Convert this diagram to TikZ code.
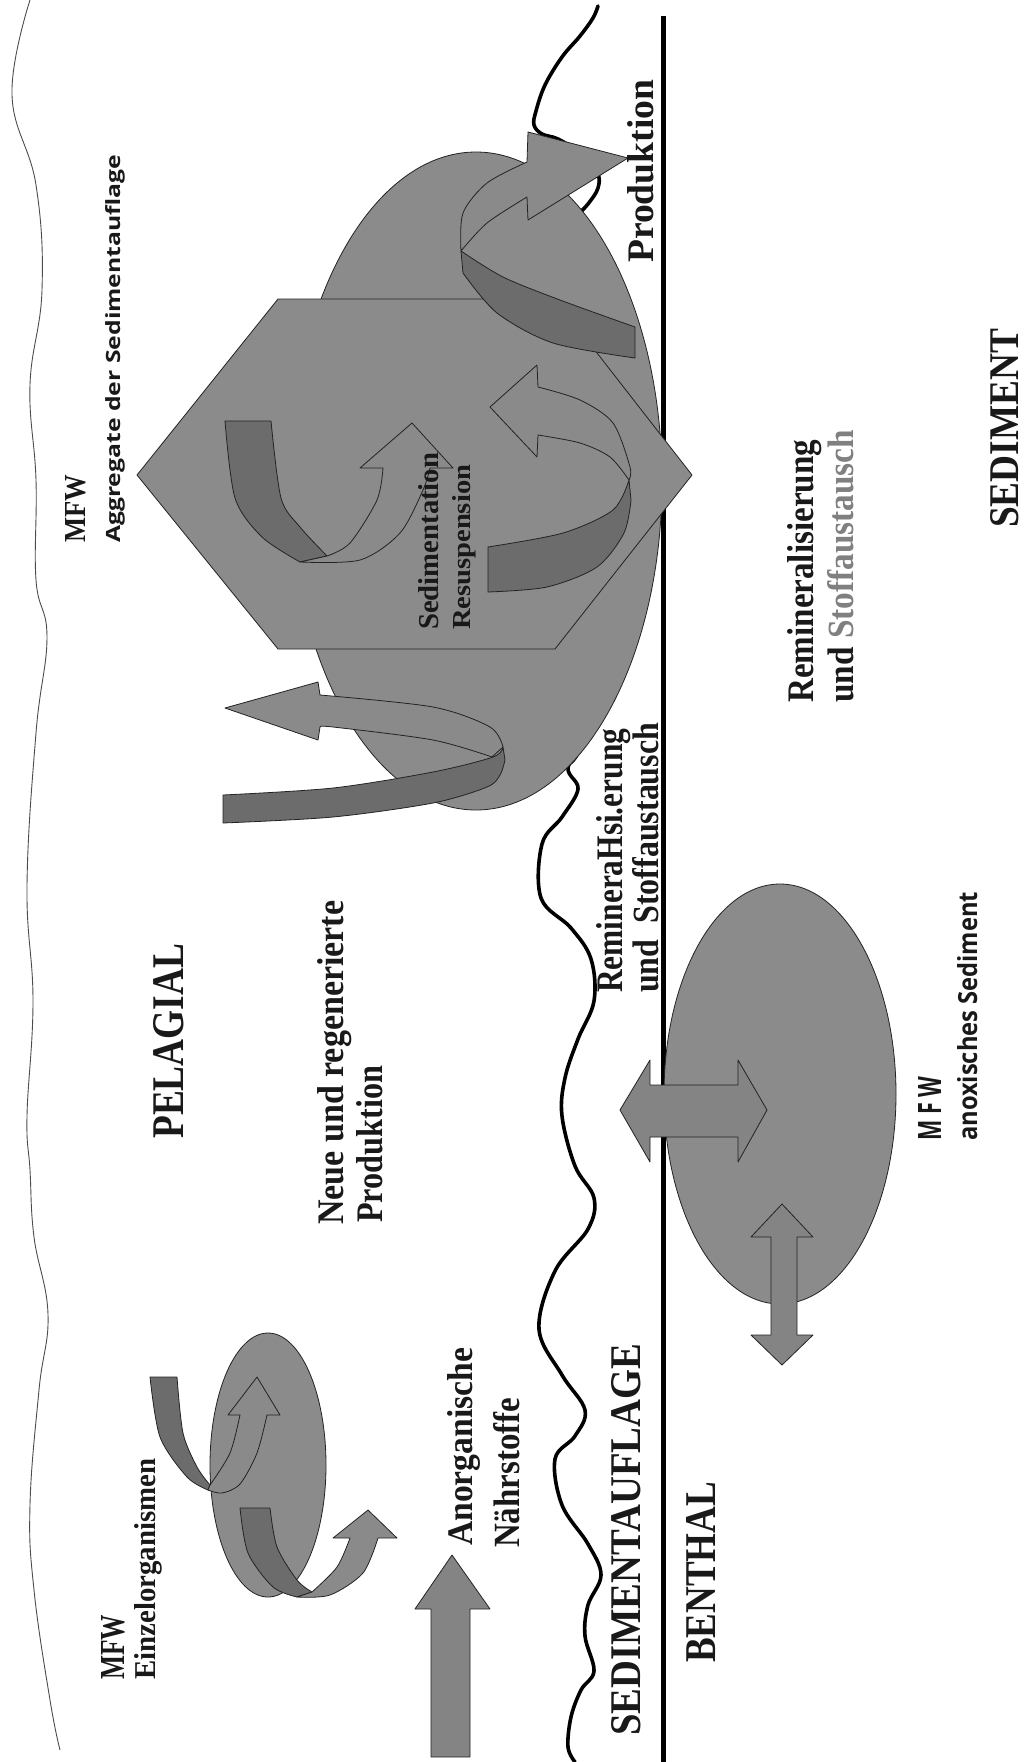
\documentclass[tikz,border=0pt]{standalone}
\usepackage{fontspec}
\setmainfont{Liberation Serif}
\newfontfamily\sansf{Open Sans}
\newcommand{\fitbox}[3]{\resizebox{#1pt}{#2pt}{#3}}
\definecolor{shapeg}{RGB}{139,139,139}
\definecolor{bandd}{RGB}{108,108,108}
\definecolor{bandl}{RGB}{138,138,138}
\definecolor{arrowg}{RGB}{132,132,132}
\definecolor{edgec}{RGB}{35,35,35}
\definecolor{txtc}{RGB}{25,25,25}
\definecolor{greytxt}{RGB}{128,128,128}
\begin{document}
\begin{tikzpicture}[x=1pt,y=-1pt,line join=round,
  shapefill/.style={fill=shapeg,draw=edgec,line width=0.8pt},
  darkband/.style={fill=bandd,draw=edgec,line width=0.8pt},
  lightband/.style={fill=bandl,draw=edgec,line width=0.8pt},
  straightarrow/.style={fill=arrowg,draw=edgec,line width=0.8pt},
  txt/.style={rotate=90,anchor=base west,inner sep=0pt,text=txtc,font=\bfseries},
  sanstxt/.style={txt,font=\sansf\bfseries}]
\useasboundingbox[fill=white] (0,0) rectangle (1024,1762);

% sea surface (thin wavy line)
\draw[line width=0.9pt,color=black!70] plot[smooth,tension=0.7] coordinates {(30,0) (12,95) (36,185) (42,290) (30,385) (36,480) (36,580) (47,637) (36,733) (27,886) (33,1001) (27,1116) (30,1170) (34,1237) (48,1314) (39,1390) (30,1505) (34,1590) (50,1700) (60,1750)};

% sediment surface (thick wavy line)
\draw[line width=3.6pt,line cap=round] plot[smooth,tension=0.6] coordinates {(598,6) (593,18) (580,36) (562,57) (545,85) (536,111) (534,125) (542,134) (558,139) (578,152) (597,172) (598,188) (588,204) (576,217) (574,225) (583,229) (592,260) (600,400) (600,600) (582,738) (568,768) (578,789) (562,817) (542,844) (541,898) (571,928) (591,959) (594,1001) (578,1039) (565,1078) (562,1116) (575,1166) (594,1198) (588,1229) (555,1271) (539,1329) (562,1375) (585,1410) (575,1436) (555,1459) (562,1505) (588,1544) (601,1575) (588,1605) (585,1636) (594,1671) (581,1690) (571,1717) (568,1747) (575,1762)};

% boundary pelagial / benthal
\coordinate (lineTop) at (663,16);
\coordinate (lineBot) at (663,1762);
\draw[line width=5pt] (lineTop) -- (lineBot);

% aggregate ellipse and hexagon
\draw[shapefill] (476,481) ellipse [x radius=186pt, y radius=329pt];
\draw[shapefill] (137,475) -- (278,299) -- (555,299) -- (692,475) -- (555,649) -- (278,649) -- cycle;

% arrow A (inside hexagon, upper left)
\draw[darkband] plot[smooth] coordinates {(225,421) (235,498) (262,537) (300,562)} -- plot[smooth] coordinates {(327,556) (300,527) (281,498) (271,421)} -- cycle;
\draw[lightband] plot[smooth] coordinates {(300,562) (360,560) (400,533) (423,490) (430,468)} -- (453,468) -- (412,423) -- (360,468) -- plot[smooth] coordinates {(383,468) (377,500) (350,543) (327,556)} -- cycle;

% arrow B (inside hexagon, lower right)
\draw[darkband] plot[smooth] coordinates {(488,547) (563,533) (613,510) (629,480)} -- plot[smooth] coordinates {(631,500) (624,533) (597,567) (547,587) (488,592)} -- cycle;
\draw[lightband] plot[smooth] coordinates {(629,480) (630,467) (613,423) (580,400) (538,387)} -- (537,365) -- (490,407) -- (537,457) -- plot[smooth] coordinates {(538,435) (580,443) (610,457) (629,480)} -- cycle;

% arrow C (Produktion)
\draw[darkband] plot[smooth] coordinates {(635,327) (560,300) (503,277) (461,251)} -- plot[smooth] coordinates {(463,273) (497,313) (553,343) (635,358)} -- cycle;
\draw[lightband] plot[smooth] coordinates {(461,251) (463,213) (487,183) (527,162)} -- (528,132) -- (628,158) -- (528,220) -- plot[smooth] coordinates {(527,197) (487,223) (461,251)} -- cycle;

% arrow D (lower left of aggregate)
\draw[darkband] plot[smooth] coordinates {(223,795) (333,788) (433,772) (493,757) (503,747)} -- plot[smooth] coordinates {(505,760) (500,775) (487,787) (433,803) (333,817) (223,823)} -- cycle;
\draw[lightband] plot[smooth] coordinates {(503,747) (490,727) (433,707) (320,695)} -- (318,682) -- (225,708) -- (318,740) -- plot[smooth] coordinates {(320,727) (333,727) (433,740) (492,757)} -- cycle;

% small ellipse (Einzelorganismen) with arrows
\draw[shapefill] (268,1465) ellipse [x radius=58pt, y radius=132pt];
\draw[darkband] plot[smooth] coordinates {(150,1377) (160,1437) (187,1477) (208,1490)} -- plot[smooth] coordinates {(210,1485) (197,1467) (183,1433) (177,1377)} -- cycle;
\draw[lightband] plot[smooth] coordinates {(208,1490) (222,1493) (240,1484) (257,1453) (267,1415)} -- (280,1415) -- (257,1377) -- (228,1415) -- plot[smooth] coordinates {(240,1415) (230,1453) (210,1485)} -- cycle;
\draw[darkband] plot[smooth] coordinates {(240,1508) (248,1553) (273,1587) (297,1597)} -- plot[smooth] coordinates {(312,1592) (297,1580) (277,1547) (270,1508)} -- cycle;
\draw[lightband] plot[smooth] coordinates {(297,1597) (330,1595) (363,1573) (378,1538)} -- (397,1538) -- (368,1510) -- (333,1538) -- plot[smooth] coordinates {(350,1538) (337,1567) (312,1592)} -- cycle;

% straight arrow (Anorganische Naehrstoffe)
\draw[straightarrow] (431,1757) -- (431,1609) -- (415,1609) -- (452,1555) -- (490,1609) -- (470,1609) -- (470,1757) -- cycle;

% lower ellipse (anoxisches Sediment) and double arrows
\draw[shapefill] (780,1094) ellipse [x radius=116pt, y radius=210pt];
\draw[straightarrow] (620,1110) -- (650,1060) -- (650,1085) -- (738,1085) -- (738,1060) -- (767,1110) -- (738,1162) -- (738,1137) -- (650,1137) -- (650,1162) -- cycle;
\draw[straightarrow] (782,1204) -- (813,1237) -- (797,1237) -- (797,1335) -- (813,1335) -- (782,1365) -- (751,1335) -- (771,1335) -- (771,1237) -- (751,1237) -- cycle;

% texts
\node[txt] (mfwA) at (85,543) {\fitbox{68}{20}{MFW}};
\node[sanstxt] (aggr) at (120,543) {\fitbox{388}{15}{Aggregate der Sedimentauflage}};
\node[txt] (sedi) at (438,630) {\fitbox{177}{20}{Sedimentation}};
\node[txt] (resu) at (470,630) {\fitbox{165}{18}{Resuspension}};
\node[txt] (prodA) at (653,263) {\fitbox{183}{26}{Produktion}};
\node[txt] (remA) at (622,993) {\fitbox{264}{26}{RemineraHsi.erung}};
\node[txt] (stoA) at (658,993) {\fitbox{270}{26}{und\ \ Stoffaustausch}};
\node[txt] (remB) at (813,703) {\fitbox{263}{26}{Remineralisierung}};
\node[txt] (stoB) at (853,703) {\fitbox{273}{26}{und \textcolor{greytxt}{Stoffaustausch}}};
\node[txt] (sedm) at (1018,528) {\fitbox{199}{28}{SEDIMENT}};
\node[txt] (pela) at (183,1139) {\fitbox{195}{30}{PELAGIAL}};
\node[txt] (neue) at (343,1225) {\fitbox{324}{26}{Neue und regenerierte}};
\node[txt] (prodB) at (382,1223) {\fitbox{157}{26}{Produktion}};
\node[sanstxt] (mfwB) at (941,1141) {\fitbox{64}{23}{M F W}};
\node[sanstxt] (anox) at (977,1141) {\fitbox{249}{20}{anoxisches Sediment}};
\node[txt] (mfwC) at (124,1680) {\fitbox{65}{23}{MFW}};
\node[txt] (einz) at (155,1680) {\fitbox{221}{21}{Einzelorganismen}};
\node[txt] (anor) at (472,1546) {\fitbox{198}{25}{Anorganische}};
\node[txt] (naeh) at (519,1548) {\fitbox{150}{26}{Nährstoffe}};
\node[txt] (sauf) at (640,1736) {\fitbox{392}{29}{SEDIMENTAUFLAGE}};
\node[txt] (bent) at (715,1663) {\fitbox{181}{29}{BENTHAL}};
\end{tikzpicture}
\end{document}
